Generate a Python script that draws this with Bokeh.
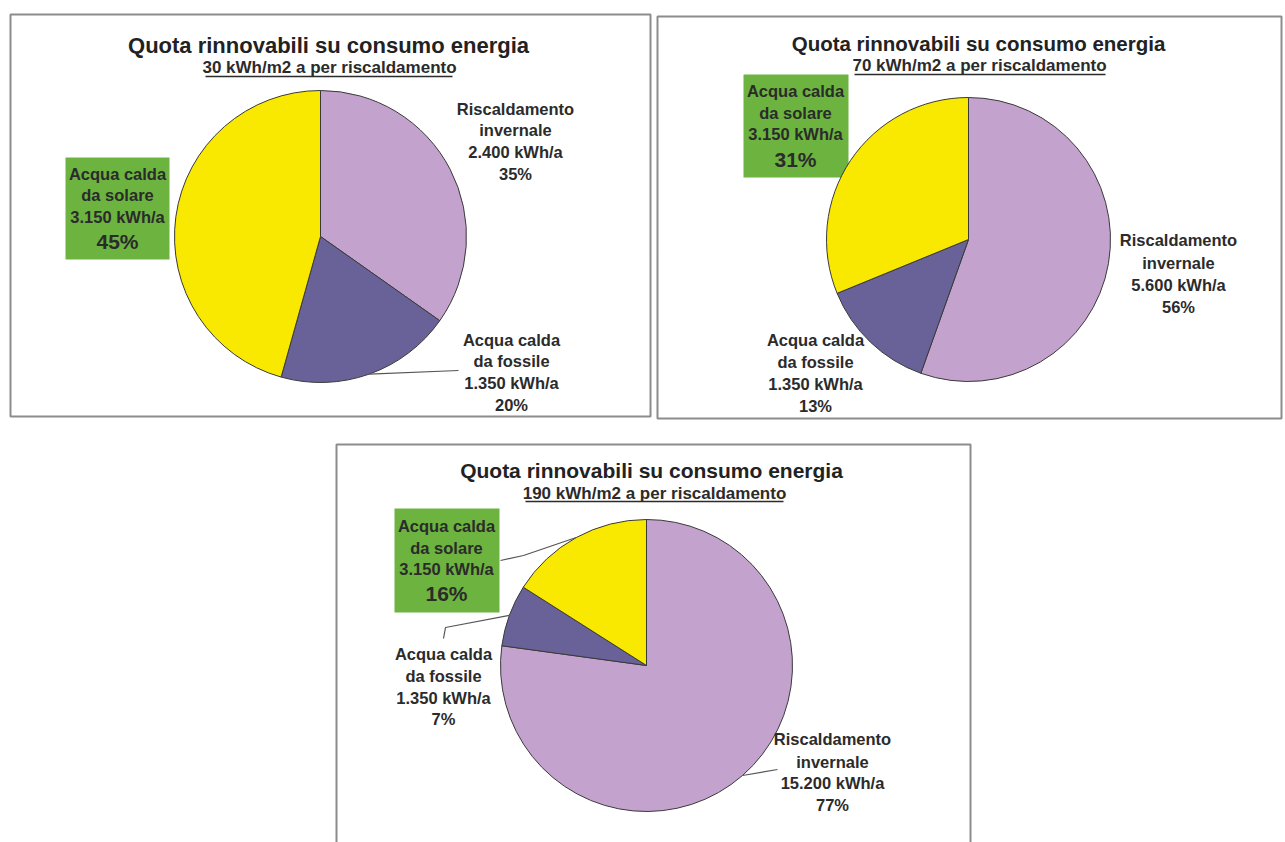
import numpy as np
from bokeh.plotting import figure
from bokeh.models import Range1d
from bokeh.embed import file_html
from bokeh.resources import INLINE
from bokeh.core.properties import value

# ---------------- data ----------------
title_text = "Quota rinnovabili su consumo energia"
subtitles = ["30 kWh/m2 a per riscaldamento",
             "70 kWh/m2 a per riscaldamento",
             "190 kWh/m2 a per riscaldamento"]
categories = [["Riscaldamento", "invernale"],
              ["Acqua calda", "da fossile"],
              ["Acqua calda", "da solare"]]
riscaldamento_kwh = [2400, 5600, 15200]
fossile_kwh = [1350, 1350, 1350]
solare_kwh = [3150, 3150, 3150]
riscaldamento_pct = ["35%", "56%", "77%"]
fossile_pct = ["20%", "13%", "7%"]
solare_pct = ["45%", "31%", "16%"]
slice_colors = ["#C4A2CE", "#686298", "#F9E800"]

# ---------------- layout (screen pixel positions) ----------------
W, H = 1285, 842
def Y(sy):
    return H - sy

panels = [
    dict(box=(10, 14, 650, 416), pie=(320, 236, 146), title=(328, 45, "22px"),
         sub=(329, 67), ul=(205, 452, 76),
         labels=[(515, [108, 129, 151, 173]), (511, [339, 360, 382, 404]), (117, [173, 194, 216, 241])],
         green=(65, 157, 169, 259),
         leaders={1: [(458, 370)]}),
    dict(box=(657, 16, 1281, 418), pie=(968, 239, 142), title=(978, 43, "20.5px"),
         sub=(979, 65), ul=(854, 1105, 74),
         labels=[(1178, [239, 262, 284, 306]), (815, [339, 361, 383, 405]), (795, [90, 112, 133, 159])],
         green=(743, 74, 848, 177),
         leaders={}),
    dict(box=(336, 444, 970, 900), pie=(646, 665, 146), title=(651, 470, "21px"),
         sub=(654, 493), ul=(525, 783, 501),
         labels=[(832, [738, 761, 782, 804]), (443, [653, 675, 697, 718]), (446, [525, 547, 568, 593])],
         green=(394, 508, 499, 612),
         leaders={2: [(523, 555), (500, 560)], 1: [(445, 627), (443, 638)], 0: [(777, 769)]}),
]

p = figure(width=W, height=H, x_range=Range1d(0, W), y_range=Range1d(0, H),
           output_backend="svg", toolbar_location=None,
           x_axis_location=None, y_axis_location=None,
           min_border=0, min_border_left=0, min_border_right=0,
           min_border_top=0, min_border_bottom=0)
p.outline_line_color = None
p.xgrid.visible = False
p.ygrid.visible = False
p.background_fill_color = "white"

FONT = value("Liberation Sans")
TXT = "#2b2b2b"

def fmt(v):
    return f"{v:,}".replace(",", ".") + " kWh/a"

for i, pn in enumerate(panels):
    vals = np.array([riscaldamento_kwh[i], fossile_kwh[i], solare_kwh[i]], dtype=float)
    pcts = [riscaldamento_pct[i], fossile_pct[i], solare_pct[i]]
    frac = vals / vals.sum()
    c1 = np.cumsum(frac)
    c0 = c1 - frac
    cx, cy, r = pn["pie"]
    start = np.pi / 2 - 2 * np.pi * c0
    end = np.pi / 2 - 2 * np.pi * c1

    # panel frame
    l, t, rr, b = pn["box"]
    p.quad(left=[l], right=[rr], top=[Y(t)], bottom=[Y(b)], fill_color=None,
           line_color="#8c8c8c", line_width=2)

    # green highlight box for the solar share
    gl, gt, gr, gb = pn["green"]
    p.quad(left=[gl], right=[gr], top=[Y(gt)], bottom=[Y(gb)],
           fill_color="#6CB33F", line_color=None)

    # pie
    p.wedge(x=[cx] * 3, y=[Y(cy)] * 3, radius=r, start_angle=list(start), end_angle=list(end),
            direction="clock", fill_color=slice_colors, line_color="#3a3a3a", line_width=1)

    # leader lines
    mid = (c0 + c1) / 2
    ang = np.pi / 2 - 2 * np.pi * mid
    for k, pts in pn["leaders"].items():
        ax = cx + r * np.cos(ang[k])
        ay = Y(cy) + r * np.sin(ang[k])
        xs = [ax] + [q[0] for q in pts]
        ys = [ay] + [Y(q[1]) for q in pts]
        p.line(xs, ys, line_color="#555555", line_width=1.2)

    # title / subtitle
    tx, ty, tsize = pn["title"]
    p.text(x=[tx], y=[Y(ty)], text=[title_text], text_align="center", text_baseline="middle",
           text_font=FONT, text_font_style="bold", text_font_size=tsize, text_color="#222222")
    sx, sy_ = pn["sub"]
    p.text(x=[sx], y=[Y(sy_)], text=[subtitles[i]], text_align="center", text_baseline="middle",
           text_font=FONT, text_font_style="bold", text_font_size="17px", text_color=TXT)
    ux0, ux1, uy = pn["ul"]
    p.segment(x0=[ux0], y0=[Y(uy)], x1=[ux1], y1=[Y(uy)], line_color=TXT, line_width=1.5)

    # slice labels
    for k in range(3):
        lx, lys = pn["labels"][k]
        lines = categories[k] + [fmt(int(vals[k])), pcts[k]]
        sizes = ["16.5px"] * 4
        if k == 2:
            sizes = ["16.5px", "16.5px", "16.5px", "21px"]
        for line, ly, sz in zip(lines, lys, sizes):
            p.text(x=[lx], y=[Y(ly)], text=[line], text_align="center", text_baseline="middle",
                   text_font=FONT, text_font_style="bold", text_font_size=sz, text_color=TXT)

open("out.html", "w").write(file_html(p, INLINE))
